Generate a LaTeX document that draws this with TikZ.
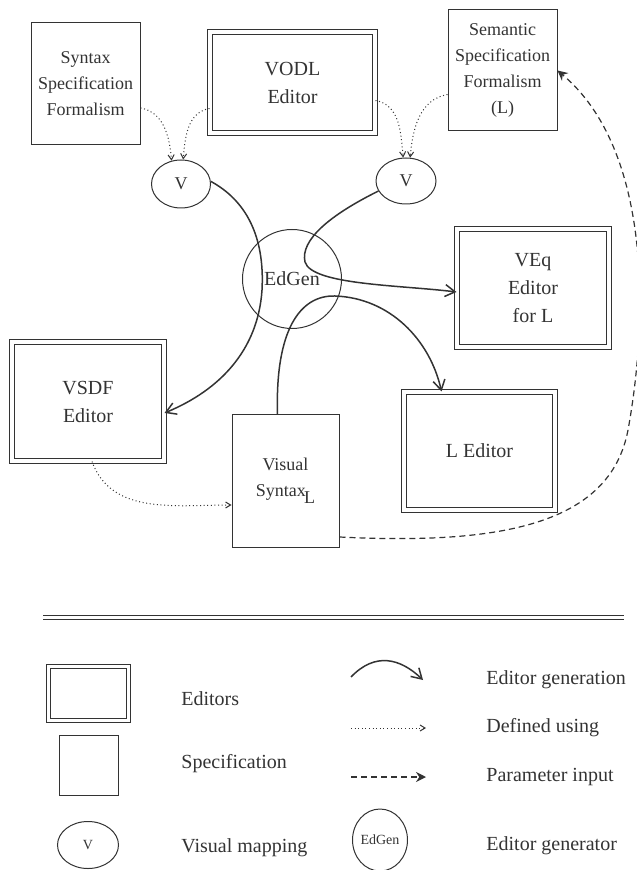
\documentclass[tikz,border=0pt]{standalone}
\usepackage{fontspec}
\setmainfont{Liberation Serif}
\usetikzlibrary{shapes.geometric,arrows.meta}
\colorlet{ink}{black!80}
\tikzset{
  every node/.style={text=ink},
  specbox/.style={draw=ink, line width=0.5pt, rectangle, inner sep=0pt, align=center, font=\fontsize{9}{13}\selectfont},
  editbox/.style={draw=ink, line width=0.5pt, double, double distance=1.6pt, rectangle, inner sep=0pt, align=center, font=\fontsize{10}{14}\selectfont},
  vmap/.style={draw=ink, line width=0.5pt, ellipse, inner sep=0pt, font=\fontsize{9}{11}\selectfont},
  edgen/.style={draw=ink, line width=0.5pt, ellipse, inner sep=0pt, font=\fontsize{10}{12}\selectfont},
  legtext/.style={anchor=west, inner sep=0pt, font=\fontsize{10}{12}\selectfont},
  genarrow/.style={draw=ink, line width=0.75pt, -{Straight Barb[length=5pt,width=6pt]}},
  defarrow/.style={draw=ink, line width=0.5pt, dash pattern=on 0.5pt off 1.3pt, -{Straight Barb[length=2.5pt,width=3pt]}},
  parmarrow/.style={draw=ink, line width=0.6pt, dash pattern=on 3pt off 2pt, -{Stealth[length=5pt,width=5pt]}}
}

\begin{document}
\begin{tikzpicture}[x=0.5pt,y=-0.5pt]
\useasboundingbox (0,0) rectangle (636,870);

\node[specbox, minimum width=54.5pt, minimum height=61pt] (syn) at (85.5,84) {Syntax\\Specification\\Formalism};
\node[editbox, minimum width=82.5pt, minimum height=50.5pt] (vodl) at (292.5,82.5) {VODL\\Editor};
\node[specbox, minimum width=54.5pt, minimum height=60.5pt] (sem) at (502.5,70.5) {Semantic\\Specification\\Formalism\\(L)};
\node[vmap, minimum width=29.5pt, minimum height=24pt] (v1) at (181,184) {V};
\node[vmap, minimum width=30pt, minimum height=23pt] (v2) at (406,181) {V};
\node[edgen, minimum width=49.5pt, minimum height=49.5pt] (gen) at (292,279) {EdGen};
\node[editbox, minimum width=76pt, minimum height=59pt] (veq) at (533,288) {VEq\\Editor\\for L};
\node[editbox, minimum width=75.5pt, minimum height=59pt] (led) at (479.5,451) {L Editor};
\node[editbox, minimum width=76pt, minimum height=59.5pt] (vsdf) at (88,401.5) {VSDF\\Editor};
\node[specbox, minimum width=53.5pt, minimum height=66pt] (vis) at (285.5,481) {Visual\\Syntax\kern-0.1em\raisebox{-0.9ex}{L}};

\draw[defarrow] ([yshift=-12pt]syn.east) to[out=-10,in=95] (v1.112);
\draw[defarrow] ([yshift=-13pt]vodl.west) to[out=190,in=85] (v1.85);
\draw[defarrow] ([yshift=-9pt]vodl.east) to[out=-10,in=95] (v2.97);
\draw[defarrow] ([yshift=-12pt]sem.west) to[out=190,in=85] (v2.80);
\draw[defarrow] ([xshift=2pt]vsdf.south) to[out=-70,in=180] ([yshift=-12pt]vis.west);

\draw[genarrow] (v1.5) .. controls (245,200) and (265,235) .. (262,290)
  .. controls (258,350) and (220,390) .. ([yshift=-5.75pt]vsdf.east);
\draw[genarrow] (v2.200) .. controls (330,215) and (300,240) .. (305,262)
  .. controls (312,285) and (400,285) .. ([yshift=-2pt]veq.west);
\draw[genarrow] ([xshift=-4pt]vis.north) .. controls (275,330) and (300,295) .. (335,296)
  .. controls (390,298) and (430,340) .. ([xshift=-19pt]led.north);

\draw[parmarrow] ([yshift=-28pt]vis.east) .. controls (500,545) and (610,525) .. (628,430)
  .. controls (648,320) and (652,150) .. (sem.east);

% legend
\draw[ink, line width=0.5pt, double, double distance=1.5pt] (43,617) -- (624,617);

\node[editbox, minimum width=40pt, minimum height=27pt] (legedit) at (88.5,693.5) {};
\node[specbox, minimum width=29.5pt, minimum height=30pt] (legspec) at (88.5,765) {};
\node[vmap, minimum width=30.5pt, minimum height=23.5pt, font=\fontsize{7}{8}\selectfont] (legv) at (88,845) {V};
\node[legtext] (txedit) at (181,699) {Editors};
\node[legtext] (txspec) at (181,764) {Specification};
\node[legtext] (txv) at (181,848) {Visual mapping};

\coordinate (ga) at (351,677);
\coordinate (gb) at (423,680);
\coordinate (da) at (351,728);
\coordinate (db) at (426,728);
\coordinate (pa) at (351,777);
\coordinate (pb) at (426,777);
\draw[genarrow] (ga) .. controls (375,652) and (400,658) .. (gb);
\draw[defarrow] (da) -- (db);
\draw[parmarrow] (pa) -- (pb);
\node[edgen, minimum width=25pt, minimum height=31pt, font=\fontsize{7}{8}\selectfont] (legg) at (380,840) {EdGen};
\node[legtext] (txgen) at (486,680) {Editor generation};
\node[legtext] (txdef) at (486,728) {Defined using};
\node[legtext] (txpar) at (486,777) {Parameter input};
\node[legtext] (txedg) at (486,846) {Editor generator};
\end{tikzpicture}
\end{document}
